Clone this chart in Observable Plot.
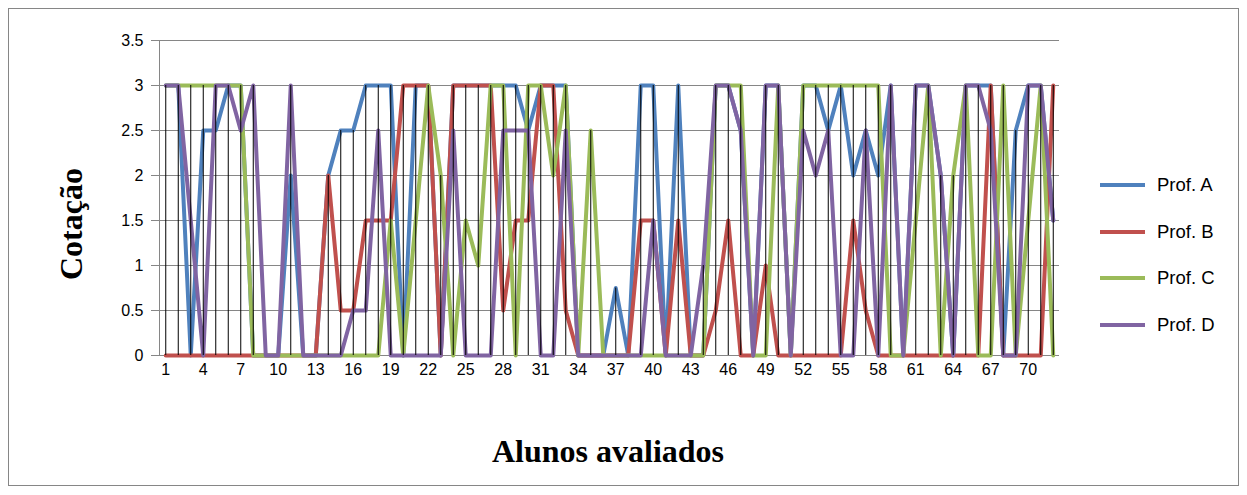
<!DOCTYPE html>
<html><head><meta charset="utf-8">
<script src="https://cdn.jsdelivr.net/npm/d3@7"></script>
<script src="https://cdn.jsdelivr.net/npm/@observablehq/plot@0.6"></script>
<style>
body{margin:0;background:#fff;}
#wrap{position:relative;width:1247px;height:495px;overflow:hidden;font-family:"Liberation Sans",Arial,sans-serif;}
#frame{position:absolute;left:8px;top:8px;width:1231px;height:478px;border:1px solid #868686;box-sizing:border-box;}
#chart{position:absolute;left:0;top:0;}
.ttl{position:absolute;font-family:"Liberation Serif","Times New Roman",serif;font-weight:bold;font-size:32px;color:#000;white-space:nowrap;}
#xt{left:608px;top:451px;transform:translate(-50%,-50%);}
#yt{left:71px;top:224px;transform:translate(-50%,-50%) rotate(-90deg);}
.leg{position:absolute;left:1100px;height:22px;display:flex;align-items:center;transform:translateY(-50%);}
.leg .sw{width:45px;height:4px;margin-right:12px;}
.leg .lb{font-size:18.5px;color:#000;}
</style></head>
<body><div id="wrap"><div id="frame"></div><div id="chart"></div>
<div class="ttl" id="yt">Cotação</div>
<div class="ttl" id="xt">Alunos avaliados</div>
<div id="legend"></div>
</div>
<script>
const seriesNames = ["Prof. A","Prof. B","Prof. C","Prof. D"];
const seriesColors = ["#4F81BD","#C0504D","#9BBB59","#8064A2"];
const students = Array.from({length:72},(_,i)=>i+1);
const profA = [3,3,0,2.5,2.5,3,3,0,0,0, 2,0,0,2,2.5,2.5,3,3,3,0, 3,3,0,3,3,3,3,3,3,2.5, 3,3,3,0,0,0,0.75,0,3,3, 0,3,0,0,3,3,2.5,0,3,3, 0,3,3,2.5,3,2,2.5,2,3,0, 3,3,2,0,3,3,3,0,2.5,3, 3,1.5];
const profB = [0,0,0,0,0,0,0,0,0,0, 0,0,0,2,0.5,0.5,1.5,1.5,1.5,3, 3,3,0,3,3,3,3,0.5,1.5,1.5, 3,3,0.5,0,0,0,0,0,1.5,1.5, 0,1.5,0,0,0.5,1.5,0,0,1,0, 0,0,0,0,0,1.5,0.5,0,0,0, 0,0,0,0,0,0,3,0,0,0, 0,3];
const profC = [3,3,3,3,3,3,3,0,0,0, 0,0,0,0,0,0,0,0,1.5,0, 1.5,3,2,0,1.5,1,3,3,0,3, 3,2,3,0,2.5,0,0,0,0,0, 0,0,0,0,3,3,3,0,0,3, 0,3,3,3,3,3,3,3,0,0, 1.5,3,0,2,3,0,0,3,0,1.5, 3,0];
const profD = [3,3,1.5,0,3,3,2.5,3,0,0, 3,0,0,0,0,0.5,0.5,2.5,0,0, 0,0,0,2.5,0,0,0,2.5,2.5,2.5, 0,0,2.5,0,0,0,0,0,0,1.5, 0,0,0,1,3,3,2.5,0,3,3, 0,2.5,2,2.5,0,0,2.5,0,3,0, 3,3,2,0,3,3,2.5,0,0,3, 3,1.5];
const xTickLabels = [1,4,7,10,13,16,19,22,25,28,31,34,37,40,43,46,49,52,55,58,61,64,67,70];
const yTickLabels = [0,0.5,1,1.5,2,2.5,3,3.5];

const allSeries = [profA,profB,profC,profD];
const rows = [];
allSeries.forEach((arr,s)=>arr.forEach((v,i)=>rows.push({student:students[i],value:v,series:seriesNames[s]})));
const maxes = students.map((st,i)=>({student:st,max:Math.max(...allSeries.map(a=>a[i]))})).filter(d=>d.max>0);

const gray = "#868686";
const chart = Plot.plot({
  width:1247, height:495,
  marginLeft:159, marginRight:188, marginTop:40, marginBottom:140,
  style:{fontFamily:"'Liberation Sans',Arial,sans-serif", fontSize:"16px", background:"transparent", color:"#000"},
  x:{type:"linear", domain:[0.5,72.5]},
  y:{domain:[0,3.5]},
  color:{domain:seriesNames, range:seriesColors},
  marks:[
    Plot.ruleY(yTickLabels,{y:d=>d, x1:0.5, x2:72.5, stroke:gray, strokeWidth:1}),
    Plot.axisY({ticks:yTickLabels, tickSize:8, tickPadding:8, stroke:gray, tickFormat:d=>String(d), label:null, fontSize:16}),
    Plot.axisX({ticks:xTickLabels, tickSize:0, tickPadding:8, tickFormat:d=>String(d), label:null, fontSize:16}),
    Plot.ruleX([0.5],{stroke:gray, strokeWidth:1}),
    Plot.lineY(rows,{x:"student", y:"value", z:"series", stroke:"series", strokeWidth:4, strokeLinejoin:"round"}),
    Plot.ruleX(maxes,{x:"student", y1:0, y2:"max", stroke:"#000", strokeWidth:1})
  ]
});
document.getElementById("chart").appendChild(chart);

const legY = [185,232,278,325];
const leg = document.getElementById("legend");
seriesNames.forEach((n,i)=>{
  const d=document.createElement("div");d.className="leg";d.style.top=legY[i]+"px";
  d.innerHTML=`<span class="sw" style="background:${seriesColors[i]}"></span><span class="lb">${n}</span>`;
  leg.appendChild(d);
});
</script></body></html>
